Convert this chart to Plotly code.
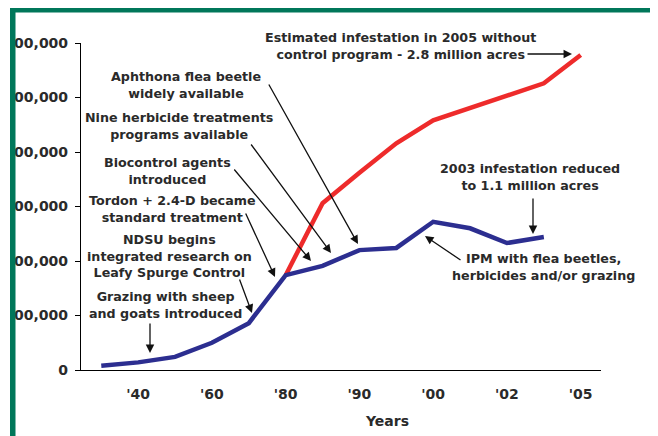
import plotly.graph_objects as go

# ---- data ----
steps = list(range(14))                      # step positions along x
tick_pos = [1, 3, 5, 7, 9, 11, 13]
tick_labels = ["'40", "'60", "'80", "'90", "'00", "'02", "'05"]

ipm_steps = list(range(13))
ipm_acres = [40000, 70000, 120000, 250000, 430000, 870000, 955000,
             1100000, 1120000, 1360000, 1300000, 1165000, 1220000]

nocontrol_steps = list(range(5, 14))
nocontrol_acres = [870000, 1530000, 1810000, 2080000, 2290000,
                   2400000, 2510000, 2630000, 2890000]

y_ticks = [0, 500000, 1000000, 1500000, 2000000, 2500000, 3000000]

# ---- layout geometry (window pixels; page body has an 8px margin) ----
W, H = 658, 436
OFF = 8
L, R, T, B = 81, 601, 43, 370
XR = (-0.55, 13.55)
YR = (0, 3000000)

def X(px):
    return XR[0] + (px - L) / (R - L) * (XR[1] - XR[0])

def Y(py):
    return YR[0] + (B - py) / (B - T) * (YR[1] - YR[0])

def PX(px):
    return (px - L) / (R - L)

def PY(py):
    return (B - py) / (B - T)

TXT = "#2a2a2a"
BLUE = "#2c2e90"
RED = "#ee2b2b"
GREEN = "#00775a"
FONT = "DejaVu Sans"

fig = go.Figure()
fig.add_trace(go.Scatter(x=nocontrol_steps, y=nocontrol_acres, mode="lines",
                         line=dict(color=RED, width=4.5), showlegend=False))
fig.add_trace(go.Scatter(x=ipm_steps, y=ipm_acres, mode="lines",
                         line=dict(color=BLUE, width=4.5), showlegend=False))

texts = [
    ("Estimated infestation in 2005 without\ncontrol program - 2.8 million acres", 400, 45.5),
    ("Aphthona flea beetle\nwidely available", 186, 84.5),
    ("Nine herbicide treatments\nprograms available", 179, 126),
    ("Biocontrol agents\nintroduced", 167, 170.5),
    ("Tordon + 2.4-D became\nstandard treatment", 172, 209),
    ("NDSU begins\nintegrated research on\nLeafy Spurge Control", 169, 255.5),
    ("Grazing with sheep\nand goats introduced", 165, 305),
    ("2003 infestation reduced\nto 1.1 million acres", 530, 177),
    ("IPM with flea beetles,\nherbicides and/or grazing", 543, 266.5),
]
arrows = [
    ((526, 54), (572, 54)),
    ((268, 83), (358, 244)),
    ((250, 143), (331, 253)),
    ((233, 168), (311, 261)),
    ((245, 212), (275, 277)),
    ((239, 278), (252, 313)),
    ((150, 322), (150, 353)),
    ((533, 197), (533, 234)),
    ((462, 261), (425, 236)),
]

annotations = []
for t, cx, cy in texts:
    annotations.append(dict(text=t.replace("\n", "<br>"), x=PX(cx), y=PY(cy),
                            xref="paper", yref="paper",
                            xanchor="center", yanchor="middle", showarrow=False,
                            align="center",
                            font=dict(family=FONT, size=12.7, color=TXT, weight=700)))
for (tx, ty), (hx, hy) in arrows:
    annotations.append(dict(text="", x=X(hx), y=Y(hy), ax=X(tx), ay=Y(ty),
                            xref="x", yref="y", axref="x", ayref="y",
                            showarrow=True, arrowhead=2, arrowsize=1.3,
                            arrowwidth=1.3, arrowcolor="#111111"))
annotations.append(dict(text="Years", x=PX(387), y=PY(421), xref="paper", yref="paper",
                        xanchor="center", yanchor="middle", showarrow=False,
                        font=dict(family=FONT, size=14, color=TXT, weight=700)))

shapes = [
    dict(type="rect", xref="paper", yref="paper", x0=PX(-2), x1=PX(10), y0=PY(H + 2), y1=PY(-2),
         fillcolor="white", line=dict(width=0), layer="above"),
    dict(type="rect", xref="paper", yref="paper", x0=PX(10), x1=PX(15.5), y0=PY(H + 2), y1=PY(7),
         fillcolor=GREEN, line=dict(width=0), layer="above"),
    dict(type="rect", xref="paper", yref="paper", x0=PX(10), x1=PX(W + 2), y0=PY(12.5), y1=PY(7),
         fillcolor=GREEN, line=dict(width=0), layer="above"),
    dict(type="rect", xref="paper", yref="paper", x0=PX(652), x1=PX(W + 2), y0=PY(H + 2), y1=PY(7),
         fillcolor=GREEN, line=dict(width=0), layer="above"),
]

fig.update_layout(
    template="none",
    width=W - OFF, height=H - OFF,
    margin=dict(l=L - OFF, r=W - R, t=T - OFF, b=H - B, pad=0, autoexpand=False),
    paper_bgcolor="white", plot_bgcolor="white",
    showlegend=False,
    annotations=annotations,
    shapes=shapes,
    xaxis=dict(range=list(XR), tickvals=tick_pos, ticktext=tick_labels,
               automargin=False,
               showline=True, linecolor="black", linewidth=1.2, ticks="",
               showgrid=False, zeroline=False, ticklabelstandoff=11,
               tickfont=dict(family=FONT, size=14, color=TXT, weight=700)),
    yaxis=dict(range=list(YR), tickvals=y_ticks, tickformat=",d",
               automargin=False,
               showline=True, linecolor="black", linewidth=1.2,
               ticks="outside", ticklen=5, tickcolor="black", tickwidth=1.2,
               showgrid=False, zeroline=False, ticklabelstandoff=4,
               tickfont=dict(family=FONT, size=14, color=TXT, weight=700)),
)

fig.write_html("out.html")
